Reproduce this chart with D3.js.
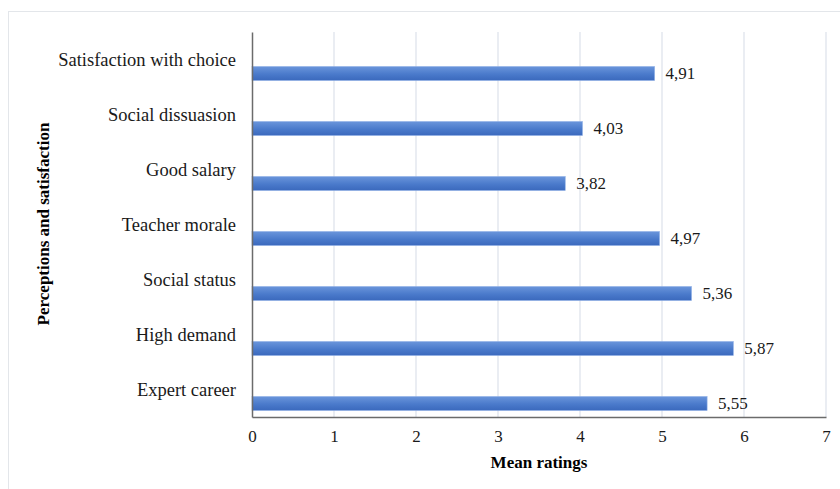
<!DOCTYPE html>
<html>
<head>
<meta charset="utf-8">
<script src="https://cdn.jsdelivr.net/npm/d3@7"></script>
<style>
  body { margin: 0; background: #fff; }
  text { font-family: "Liberation Serif", "Times New Roman", serif; }
</style>
</head>
<body>
<div id="chart"></div>
<script>
// data, top to bottom
const categories = ['Satisfaction with choice', 'Social dissuasion', 'Good salary',
                    'Teacher morale', 'Social status', 'High demand', 'Expert career'];
const ratings = [4.91, 4.03, 3.82, 4.97, 5.36, 5.87, 5.55];
const ticks = [0, 1, 2, 3, 4, 5, 6, 7];

const w = 840, h = 489;
const plotL = 252, plotR = 826, plotT = 32, plotB = 417;

const svg = d3.select('#chart').append('svg')
    .attr('width', w)
    .attr('height', h);

// outer frame
svg.append('rect')
    .attr('x', 8.5).attr('y', 11.5)
    .attr('width', 860).attr('height', 500)
    .attr('fill', 'none')
    .attr('stroke', '#e3e6ea');

// gradient for bars
const grad = svg.append('defs').append('linearGradient')
    .attr('id', 'barGrad')
    .attr('x1', 0).attr('y1', 0).attr('x2', 0).attr('y2', 1);
grad.append('stop').attr('offset', '0%').attr('stop-color', '#6a95db');
grad.append('stop').attr('offset', '55%').attr('stop-color', '#4a7acb');
grad.append('stop').attr('offset', '100%').attr('stop-color', '#3b69bd');

const xScale = d3.scaleLinear().domain([0, 7]).range([plotL, plotR]);
const yScale = d3.scaleBand().domain(categories).range([plotT, plotB]);

// gridlines
svg.append('g')
    .selectAll('line')
    .data(ticks.slice(1))
    .enter()
    .append('line')
    .attr('x1', d => xScale(d)).attr('x2', d => xScale(d))
    .attr('y1', plotT).attr('y2', plotB)
    .attr('stroke', '#dfe4ec')
    .attr('stroke-width', 1.3);

// bars
const barH = 14;
svg.selectAll('.bar')
    .data(categories)
    .enter()
    .append('rect')
    .attr('class', 'bar')
    .attr('x', xScale(0))
    .attr('y', d => yScale(d) + yScale.bandwidth() / 2 + 7)
    .attr('width', (d, i) => xScale(ratings[i]) - xScale(0))
    .attr('height', barH)
    .attr('fill', 'url(#barGrad)')
    .attr('stroke', '#8fb0e6')
    .attr('stroke-width', 0.6);

// value labels
svg.selectAll('.val')
    .data(categories)
    .enter()
    .append('text')
    .attr('class', 'val')
    .text((d, i) => ratings[i].toFixed(2).replace('.', ','))
    .attr('x', (d, i) => xScale(ratings[i]) + 11)
    .attr('y', d => yScale(d) + yScale.bandwidth() / 2 + 19)
    .attr('font-size', 17)
    .attr('fill', '#1a1a1a');

// axes
const xAxis = d3.axisBottom(xScale).tickValues(ticks).tickFormat(d3.format('d'))
    .tickSize(0).tickPadding(13);
svg.append('g')
    .attr('transform', 'translate(0,' + plotB + ')')
    .call(xAxis)
    .call(g => g.select('.domain').attr('stroke', '#6b6b6b').attr('stroke-width', 1.5))
    .call(g => g.selectAll('text').attr('font-size', 17).attr('fill', '#1a1a1a')
        .attr('font-family', '"Liberation Serif", serif'));

const yAxis = d3.axisLeft(yScale).tickSize(0).tickPadding(16);
svg.append('g')
    .attr('transform', 'translate(' + plotL + ',0)')
    .call(yAxis)
    .call(g => g.select('.domain').attr('stroke', '#6b6b6b').attr('stroke-width', 1.5))
    .call(g => g.selectAll('text').attr('font-size', 18.5).attr('fill', '#1a1a1a')
        .attr('dy', '0.34em')
        .attr('font-family', '"Liberation Serif", serif'));

// axis titles
svg.append('text')
    .text('Mean ratings')
    .attr('x', (plotL + plotR) / 2)
    .attr('y', 468)
    .attr('text-anchor', 'middle')
    .attr('font-size', 17)
    .attr('font-weight', 'bold');

svg.append('text')
    .text('Perceptions and satisfaction')
    .attr('transform', 'translate(49,' + 224 + ') rotate(-90)')
    .attr('text-anchor', 'middle')
    .attr('font-size', 17)
    .attr('font-weight', 'bold');
</script>
</body>
</html>
